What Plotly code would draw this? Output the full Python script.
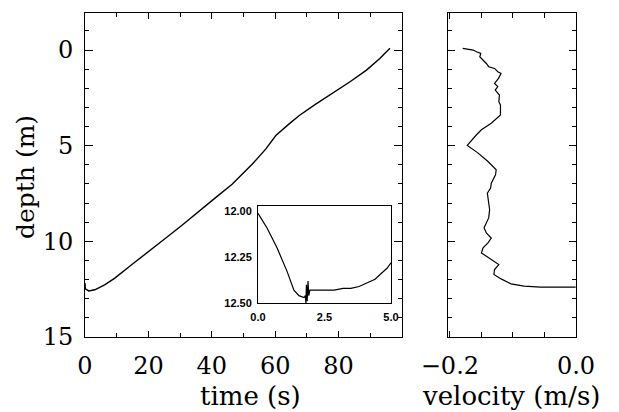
import plotly.graph_objects as go

# the page body has an 8px margin: the figure keeps the window size and all
# placements are given in window pixels, shifted by that margin
W, H = 619, 412
OFF = 8

# ---- data ----
time_s = [0.0, 0.1, 1.2, 3.1, 6.2, 9.4, 14.7, 20.0, 25.3, 30.6, 35.9, 41.2, 46.4,
          50.0, 52.8, 57.0, 60.2, 64.4, 67.6, 72.9, 78.2, 83.5, 88.8, 93.0, 96.2]
depth_m = [12.19, 12.49, 12.6, 12.54, 12.28, 11.93, 11.23, 10.56, 9.86, 9.16, 8.46, 7.72, 7.02,
           6.45, 5.96, 5.18, 4.47, 3.86, 3.42, 2.81, 2.25, 1.67, 1.05, 0.44, -0.09]

inset_t = [0.0, 0.34, 0.72, 1.1, 1.35, 1.54, 1.73, 1.78, 1.80, 1.82, 1.85, 1.88, 1.91,
           1.95, 2.1, 2.48, 2.86, 3.2, 3.49, 3.8, 4.12, 4.4, 4.62, 4.85, 5.0]
inset_depth = [12.01, 12.09, 12.20, 12.33, 12.43, 12.46, 12.47, 12.46, 12.50, 12.40, 12.49,
               12.38, 12.46, 12.43, 12.43, 12.43, 12.43, 12.42, 12.42, 12.41, 12.39, 12.37,
               12.34, 12.31, 12.28]

velocity = [-0.1797, -0.1630, -0.1578, -0.1510, -0.1526, -0.1474, -0.1422, -0.1385, -0.1292,
            -0.1240, -0.1188, -0.1229, -0.1292, -0.1240, -0.1281, -0.1214, -0.1224, -0.1198,
            -0.1198, -0.1344, -0.1500, -0.1578, -0.1724, -0.1552, -0.1396, -0.1266, -0.1276,
            -0.1344, -0.1354, -0.1406, -0.1385, -0.1370, -0.1385, -0.1422, -0.1458, -0.1422,
            -0.1344, -0.1396, -0.1474, -0.1500, -0.1422, -0.1318, -0.1224, -0.1292, -0.1302,
            -0.1188, -0.1031, -0.0823, -0.0563, -0.0250, -0.0005]
vel_depth = [-0.09, 0.0, 0.09, 0.17, 0.35, 0.52, 0.70, 0.87, 0.96, 1.13, 1.22, 1.48, 1.74,
             1.91, 2.09, 2.35, 2.70, 2.87, 3.39, 3.83, 4.17, 4.43, 4.99, 5.39, 5.83, 6.26,
             6.52, 6.96, 7.22, 7.48, 7.91, 8.35, 8.78, 9.04, 9.30, 9.57, 9.83, 10.09, 10.35,
             10.61, 10.78, 11.04, 11.22, 11.48, 11.74, 11.97, 12.23, 12.35, 12.40, 12.40, 12.40]

main_xticks = [0, 20, 40, 60, 80]
main_yticks = [0, 5, 10, 15]
vel_tickvals = [-0.2, 0.0]
vel_ticktext = ["\u22120.2", "0.0"]
inset_xticks = [0.0, 2.5, 5.0]
inset_xtext = ["0.0", "2.5", "5.0"]
inset_yticks = [12.0, 12.25, 12.5]
inset_ytext = ["12.00", "12.25", "12.50"]

SERIF = "DejaVu Serif"
FS = 24
FT = 26

fig = go.Figure()
fig.add_trace(go.Scatter(x=time_s, y=depth_m, mode="lines", line=dict(color="black", width=1.4),
                         xaxis="x", yaxis="y", showlegend=False))
fig.add_trace(go.Scatter(x=velocity, y=vel_depth, mode="lines", line=dict(color="black", width=1.2),
                         xaxis="x2", yaxis="y2", showlegend=False))
fig.add_trace(go.Scatter(x=inset_t, y=inset_depth, mode="lines", line=dict(color="black", width=1.2),
                         xaxis="x3", yaxis="y3", showlegend=False))

def px(v):  # window pixel x -> paper fraction
    return (v - OFF) / W

def py(v):  # window pixel y (from top) -> paper fraction
    return 1 - (v - OFF) / H

frame = dict(showline=True, linecolor="black", linewidth=1, mirror="ticks",
             showgrid=False, zeroline=False, ticks="inside", tickcolor="black",
             automargin=False)
tickfont = dict(family=SERIF, size=FS, color="black")
insetfont = dict(family="Liberation Sans", size=11, color="black", weight="bold")

fig.update_layout(
    template="none",
    width=W, height=H, autosize=False,
    margin=dict(l=0, r=0, t=0, b=0, pad=0),
    paper_bgcolor="white", plot_bgcolor="white",
    xaxis=dict(domain=[px(85), px(402)], range=[0, 100], anchor="y",
               tickmode="array", tickvals=main_xticks, ticklen=6, tickwidth=1,
               minor=dict(dtick=10, tick0=0, ticks="inside", ticklen=4, tickcolor="black"),
               tickfont=tickfont, ticklabelstandoff=7, **frame),
    yaxis=dict(domain=[py(337), py(13)], range=[15.01, -1.94], anchor="x",
               tickmode="array", tickvals=main_yticks, ticklen=8, tickwidth=1,
               minor=dict(dtick=1, tick0=0, ticks="inside", ticklen=4, tickcolor="black"),
               tickfont=tickfont, ticklabelstandoff=6, **frame),
    xaxis2=dict(domain=[px(448), px(576)], range=[-0.203, 0.0], anchor="y2",
                tickmode="array", tickvals=vel_tickvals, ticktext=vel_ticktext,
                ticklen=6, tickwidth=1,
                minor=dict(tickmode="array", tickvals=[-0.15, -0.1, -0.05], ticks="inside",
                           ticklen=5, tickcolor="black"),
                tickfont=tickfont, ticklabelstandoff=7, **frame),
    yaxis2=dict(domain=[py(337), py(13)], range=[15.01, -1.94], anchor="x2",
                tickmode="array", tickvals=[0, 5, 10, 15], ticklen=7, tickwidth=1,
                showticklabels=False,
                minor=dict(dtick=1, tick0=0, ticks="inside", ticklen=4, tickcolor="black"),
                **frame),
    xaxis3=dict(domain=[px(258), px(391)], range=[0, 5], anchor="y3",
                showline=True, linecolor="black", linewidth=1, mirror=True,
                showgrid=False, zeroline=False, ticks="", automargin=False,
                tickmode="array", tickvals=inset_xticks, ticktext=inset_xtext,
                tickfont=insetfont, ticklabelstandoff=4),
    yaxis3=dict(domain=[py(303), py(206)], range=[12.5, 11.97], anchor="x3",
                showline=True, linecolor="black", linewidth=1, mirror=True,
                showgrid=False, zeroline=False, ticks="", automargin=False,
                tickmode="array", tickvals=inset_yticks, ticktext=inset_ytext,
                tickfont=insetfont, ticklabelstandoff=3),
    annotations=[
        dict(text="depth (m)", x=px(26), y=py(177), xref="paper", yref="paper",
             textangle=-90, showarrow=False, xanchor="center", yanchor="middle",
             font=dict(family=SERIF, size=25, color="black")),
        dict(text="time (s)", x=px(250), y=py(396), xref="paper", yref="paper",
             showarrow=False, xanchor="center", yanchor="middle",
             font=dict(family=SERIF, size=FT, color="black")),
        dict(text="velocity (m/s)", x=px(511), y=py(396), xref="paper", yref="paper",
             showarrow=False, xanchor="center", yanchor="middle",
             font=dict(family=SERIF, size=FT, color="black")),
    ],
)

fig.write_html("out.html")
